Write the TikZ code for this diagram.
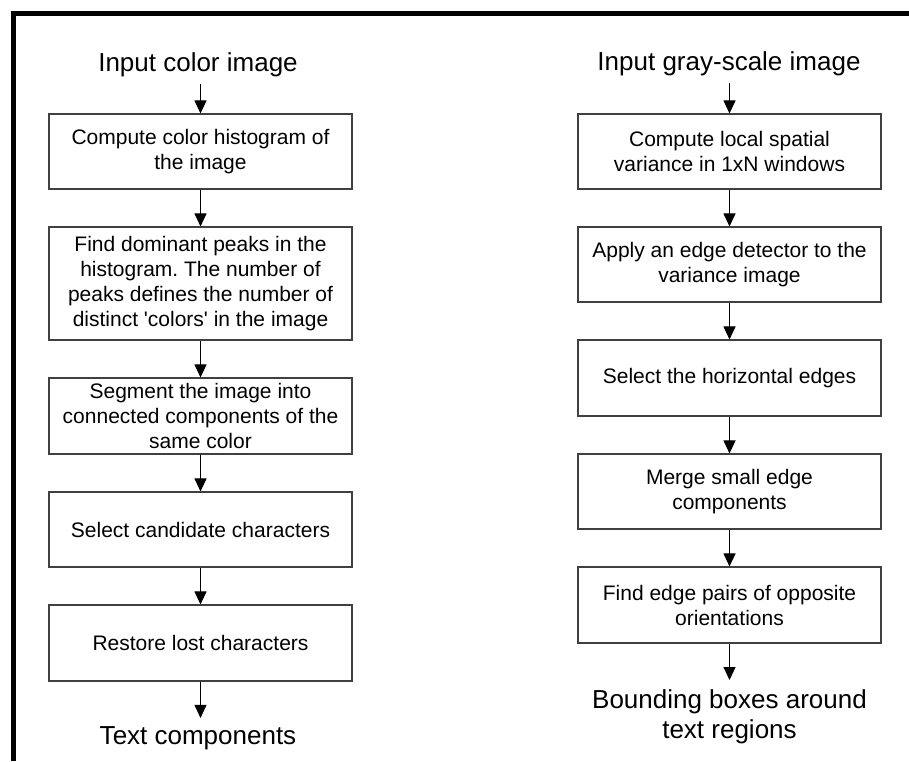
\documentclass[tikz,border=0pt]{standalone}
\usepackage{fontspec}
\setmainfont{Liberation Sans}
\usetikzlibrary{arrows.meta}
\frenchspacing
\begin{document}
\begin{tikzpicture}[x=1pt,y=-1pt,
  stepbox/.style={draw=black!75, line width=1.1pt, minimum width=303pt, inner sep=0pt,
    align=center, font=\fontsize{21pt}{25pt}\selectfont},
  titletext/.style={inner sep=0pt, align=center, font=\fontsize{26pt}{30pt}\selectfont},
  arr/.style={-{Triangle[length=13pt,width=12pt]}, line width=1pt, black}]
\useasboundingbox (0,0) rectangle (909,761);
% frame
\draw[line width=5pt] (13.5,761) -- (13.5,13.5) -- (909,13.5);
% left column
\node[titletext, anchor=base] (t1) at (198,71) {Input color image};
\node[stepbox, minimum height=75pt] (L1) at (200.5,151.5) {Compute color histogram of\\the image};
\node[stepbox, minimum height=113pt] (L2) at (200.5,283.5) {Find dominant peaks in the\\histogram. The number of\\peaks defines the number of\\distinct \textquotesingle colors\textquotesingle\ in the image};
\node[stepbox, minimum height=76pt] (L3) at (200.5,416) {Segment the image into\\connected components of the\\same color};
\node[stepbox, minimum height=75pt] (L4) at (200.5,529.5) {Select candidate characters};
\node[stepbox, minimum height=76pt] (L5) at (200.5,643) {Restore lost characters};
\node[titletext, anchor=base] (t2) at (198,744) {Text components};
% right column
\node[titletext, anchor=base] (r0) at (729,70) {Input gray-scale image};
\node[stepbox, minimum height=75pt] (R1) at (729.5,151.5) {Compute local spatial\\variance in 1xN windows};
\node[stepbox, minimum height=75pt] (R2) at (729.5,264.5) {Apply an edge detector to the\\variance image};
\node[stepbox, minimum height=76pt] (R3) at (729.5,378) {Select the horizontal edges};
\node[stepbox, minimum height=75pt] (R4) at (729.5,491.5) {Merge small edge\\components};
\node[stepbox, minimum height=76pt] (R5) at (729.5,605) {Find edge pairs of opposite\\orientations};
\node[titletext, anchor=north] (r6) at (729.5,689) {Bounding boxes around\\text regions};
% arrows
\draw[arr, shorten <=7.5pt] (t1.south -| L1.north) -- (L1.north);
\draw[arr] (L1) -- (L2);
\draw[arr] (L2) -- (L3);
\draw[arr] (L3) -- (L4);
\draw[arr] (L4) -- (L5);
\draw[arr, shorten >=8pt] (L5.south) -- (L5.south |- t2.north);
\draw[arr, shorten <=7.5pt] (r0.south -| R1.north) -- (R1.north);
\draw[arr] (R1) -- (R2);
\draw[arr] (R2) -- (R3);
\draw[arr] (R3) -- (R4);
\draw[arr] (R4) -- (R5);
\draw[arr, shorten >=9pt] (R5.south) -- (R5.south |- r6.north);
\end{tikzpicture}
\end{document}
